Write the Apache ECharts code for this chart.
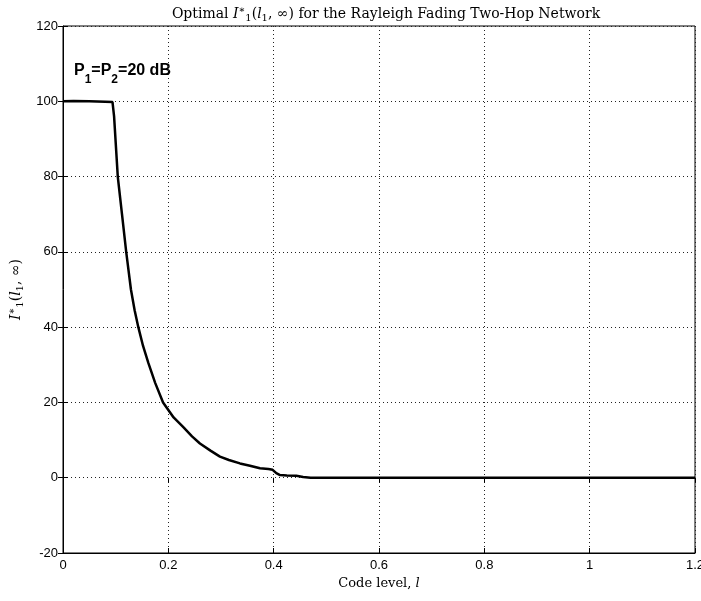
<!DOCTYPE html>
<html>
<head>
<meta charset="utf-8">
<script src="https://cdn.jsdelivr.net/npm/echarts@6/dist/echarts.min.js"></script>
<style>
  html, body { margin: 0; padding: 0; background: #fff; }
  #chart { width: 701px; height: 601px; }
</style>
</head>
<body>
<div id="chart"></div>
<script>
// Code level l and optimal I1*(l1, inf) values
const codeLevel = [0, 0.02, 0.05, 0.08, 0.094, 0.097, 0.104, 0.112, 0.12, 0.129, 0.136, 0.143,
  0.152, 0.162, 0.175, 0.19, 0.21, 0.228, 0.245, 0.26, 0.28, 0.298, 0.315, 0.336, 0.355, 0.374,
  0.39, 0.398, 0.405, 0.412, 0.425, 0.443, 0.456, 0.47, 0.6, 0.8, 1.0, 1.2];
const optimalI1 = [100, 100.1, 100, 99.9, 99.8, 96, 80, 70, 60, 50, 44.5, 40,
  35, 30.5, 25.2, 20, 16, 13.5, 11, 9.1, 7.2, 5.6, 4.7, 3.8, 3.2, 2.5,
  2.3, 2.1, 1.2, 0.7, 0.6, 0.5, 0.2, 0, 0, 0, 0, 0];
const xTicks = { min: 0, max: 1.2, step: 0.2 };
const yTicks = { min: -20, max: 120, step: 20 };

const seriesData = codeLevel.map((l, i) => [l, optimalI1[i]]);

const serif = 'DejaVu Serif';
const sans = 'Liberation Sans';

const chart = echarts.init(document.getElementById('chart'));

const gridLine = { show: true, lineStyle: { color: '#222', width: 1, type: [1, 3] } };
const tickIn = { show: true, inside: true, length: 5, lineStyle: { color: '#000' } };

// rich text styles for the math-style labels
function mathRich(size) {
  const small = Math.round(size * 0.7);
  return {
    t: { fontFamily: serif, fontWeight: 'normal', fontSize: size, color: '#000', lineHeight: 18, verticalAlign: 'middle' },
    i: { fontFamily: serif, fontWeight: 'normal', fontStyle: 'italic', fontSize: size, color: '#000', lineHeight: 18, verticalAlign: 'middle' },
    sup: { fontFamily: serif, fontWeight: 'normal', fontSize: small, color: '#000', lineHeight: 18, verticalAlign: 'top' },
    sub: { fontFamily: serif, fontWeight: 'normal', fontSize: small, color: '#000', lineHeight: 18, verticalAlign: 'bottom' }
  };
}

chart.setOption({
  animation: false,
  backgroundColor: '#fff',
  title: {
    text: '{t|Optimal }{i|I}{sup|∗}{sub|1}{t|(}{i|l}{sub|1}{t|, ∞) for the Rayleigh Fading Two-Hop Network}',
    left: 381,
    textAlign: 'center',
    top: 0,
    textStyle: { fontWeight: 'normal', rich: mathRich(14) }
  },
  grid: {
    left: 63, right: 6, top: 26, bottom: 48,
    outerBoundsMode: 'none', containLabel: false,
    show: true, borderColor: '#000', borderWidth: 1, backgroundColor: 'transparent'
  },
  xAxis: [{
    type: 'value',
    min: xTicks.min, max: xTicks.max, interval: xTicks.step,
    axisLine: { show: true, onZero: false, lineStyle: { color: '#000' } },
    axisTick: tickIn,
    splitLine: gridLine,
    axisLabel: { color: '#000', fontFamily: sans, fontSize: 13, margin: 6 },
    name: '{t|Code level, }{i|l}',
    nameLocation: 'middle',
    nameGap: 21,
    nameTextStyle: { rich: mathRich(13) }
  }, {
    type: 'value', position: 'top',
    min: xTicks.min, max: xTicks.max, interval: xTicks.step,
    axisLine: { show: false }, axisTick: tickIn, axisLabel: { show: false }, splitLine: { show: false }
  }],
  yAxis: [{
    type: 'value',
    min: yTicks.min, max: yTicks.max, interval: yTicks.step,
    axisLine: { show: true, onZero: false, lineStyle: { color: '#000' } },
    axisTick: tickIn,
    splitLine: gridLine,
    axisLabel: { color: '#000', fontFamily: sans, fontSize: 13, margin: 5 },
    name: '{i|I}{sup|∗}{sub|1}{t|(}{i|l}{sub|1}{t|, ∞)}',
    nameLocation: 'middle',
    nameRotate: 90,
    nameGap: 34,
    nameTextStyle: { rich: mathRich(14) }
  }, {
    type: 'value', position: 'right',
    min: yTicks.min, max: yTicks.max, interval: yTicks.step,
    axisLine: { show: false }, axisTick: tickIn, axisLabel: { show: false }, splitLine: { show: false }
  }],
  graphic: [{
    type: 'text',
    left: 74,
    top: 63,
    style: {
      text: '{b|P}{s|1}{b|=P}{s|2}{b|=20 dB}',
      rich: {
        b: { fontFamily: sans, fontWeight: 'bold', fontSize: 16, fill: '#000', lineHeight: 23, verticalAlign: 'top' },
        s: { fontFamily: sans, fontWeight: 'bold', fontSize: 12, fill: '#000', lineHeight: 23, verticalAlign: 'bottom' }
      }
    }
  }],
  series: [{
    type: 'line',
    data: seriesData,
    showSymbol: false,
    smooth: false,
    lineStyle: { color: '#000', width: 2.5 },
    xAxisIndex: 0,
    yAxisIndex: 0
  }]
});
</script>
</body>
</html>
